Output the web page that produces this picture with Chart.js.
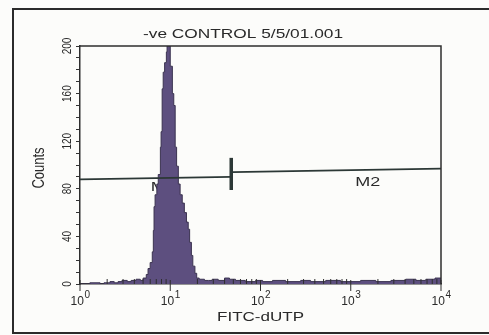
<!DOCTYPE html>
<html>
<head>
<meta charset="utf-8">
<title>-ve CONTROL 5/5/01.001</title>
<script src="https://cdn.jsdelivr.net/npm/chart.js@4.4.1/dist/chart.umd.min.js"></script>
<style>
    html, body { margin: 0; padding: 0; background: #fcfcfa; overflow: hidden; }
    #wrap { position: relative; width: 489px; height: 335px; }
    #frame { position: absolute; left: 12px; top: 8px; width: 520px; height: 326px; border: 2px solid #2b2b2b; box-sizing: border-box; }
    #histo { position: absolute; left: 0; top: 0; }
</style>
</head>
<body>
<div id="wrap">
    <div id="frame"></div>
    <canvas id="histo" width="489" height="335"></canvas>
</div>
<script>
'use strict';

// ===== data =====
// channel (0-1024, 256 per decade) where the count changes; count holds until next channel
const channels = [
    0, 28, 57, 68, 85, 97, 108, 119, 134, 145, 159, 171, 179, 188, 193, 199,
    205, 208, 210, 213, 218, 222, 228, 230, 233, 236, 240, 245, 247, 256, 262, 266,
    270, 274, 279, 284, 290, 296, 302, 307, 311, 316, 320, 326, 331, 338, 353, 365,
    375, 392, 410, 424, 441, 469, 498, 518, 546, 583, 626, 654, 697, 739, 796, 839,
    882, 924, 953, 981, 1007, 1024
];
const counts = [
    0, 1, 0, 1, 2, 1, 2, 3, 2, 3, 4, 3, 5, 8, 13, 18,
    27, 45, 65, 75, 84, 92, 115, 128, 164, 178, 186, 195, 200, 183, 160, 150,
    115, 99, 84, 75, 68, 60, 52, 46, 35, 24, 15, 9, 5, 4, 3, 3,
    4, 3, 5, 4, 3, 2, 3, 2, 3, 2, 3, 2, 3, 2, 3, 2,
    3, 4, 3, 4, 5, 5
];

// gate markers M1 / M2
const m1Channels = [0, 429];
const m1Counts = [88, 90];
const m2Channels = [433, 1024];
const m2Counts = [94, 97];
const dividerChannel = 429;
const dividerCounts = [79, 106];

// axis labels
const decadeLabels = ['0', '1', '2', '3', '4'];
const yLabels = [0, 40, 80, 120, 160, 200];
const gateLabels = [
    { text: 'M1', channel: 236, count: 81 },
    { text: 'M2', channel: 816, count: 85 }
];

const INK = '#2a2a2a';
const FONT = '"Liberation Sans", Arial, sans-serif';
const PER_DECADE = 256;

function drawText(ctx, text, x, y, size, stretch, rotated) {
    ctx.save();
    ctx.font = size + 'px ' + FONT;
    ctx.fillStyle = INK;
    ctx.textAlign = 'center';
    ctx.textBaseline = 'middle';
    ctx.translate(x, y);
    ctx.scale(stretch, 1);
    if (rotated) ctx.rotate(-Math.PI / 2);
    ctx.fillText(text, 0, 0);
    ctx.restore();
}

function stretchFor(ctx, text, size, width) {
    ctx.save();
    ctx.font = size + 'px ' + FONT;
    const w = ctx.measureText(text).width;
    ctx.restore();
    return width / w;
}

const facsPlugin = {
    id: 'facs',
    // gate labels sit under the histogram
    beforeDatasetsDraw(chart) {
        const { ctx, scales: { x, y } } = chart;
        gateLabels.forEach(g => {
            const s = stretchFor(ctx, g.text, 12, 25);
            drawText(ctx, g.text, x.getPixelForValue(g.channel), y.getPixelForValue(g.count), 12, s, false);
        });
    },
    afterDraw(chart) {
        const { ctx, chartArea: a, scales: { x, y } } = chart;
        ctx.save();
        ctx.strokeStyle = '#2e2e2e';
        ctx.lineWidth = 1.5;
        // top and right of the plot box
        ctx.beginPath();
        ctx.moveTo(a.left, a.top);
        ctx.lineTo(a.right, a.top);
        ctx.lineTo(a.right, a.bottom);
        ctx.stroke();

        // x ticks: decades point down, 2..9 point up into the plot
        ctx.lineWidth = 1;
        decadeLabels.forEach((d, i) => {
            const px = x.getPixelForValue(i * PER_DECADE);
            ctx.beginPath();
            ctx.moveTo(px, a.bottom - 4);
            ctx.lineTo(px, a.bottom + 7);
            ctx.stroke();
            if (i === decadeLabels.length - 1) return;
            for (let k = 2; k <= 9; k++) {
                const mx = x.getPixelForValue((i + Math.log10(k)) * PER_DECADE);
                ctx.beginPath();
                ctx.moveTo(mx, a.bottom);
                ctx.lineTo(mx, a.bottom - 5);
                ctx.stroke();
            }
        });
        ctx.restore();

        // x tick labels 10^n
        decadeLabels.forEach((d, i) => {
            const px = x.getPixelForValue(i * PER_DECADE);
            ctx.save();
            ctx.fillStyle = INK;
            ctx.textBaseline = 'middle';
            ctx.font = '12px ' + FONT;
            const w1 = ctx.measureText('10').width;
            ctx.font = '10px ' + FONT;
            const w2 = ctx.measureText(d).width;
            const start = px - (w1 + w2) / 2;
            ctx.font = '12px ' + FONT;
            ctx.textAlign = 'left';
            ctx.fillText('10', start, a.bottom + 18);
            ctx.font = '10px ' + FONT;
            ctx.fillText(d, start + w1 + 0.5, a.bottom + 11);
            ctx.restore();
        });

        // y tick labels, rotated
        yLabels.forEach(v => {
            drawText(ctx, String(v), 67, y.getPixelForValue(v), 10, 1.35, true);
        });

        // titles
        drawText(ctx, '-ve CONTROL 5/5/01.001', 243, 34, 13, stretchFor(ctx, '-ve CONTROL 5/5/01.001', 13, 200), false);
        drawText(ctx, 'FITC-dUTP', (a.left + a.right) / 2, 317, 13, stretchFor(ctx, 'FITC-dUTP', 13, 87), false);
        drawText(ctx, 'Counts', 39, 168, 13, 1.3, true);
    }
};

const toPoints = (xs, ys) => xs.map((c, i) => ({ x: c, y: ys[i] }));

new Chart(document.getElementById('histo'), {
    type: 'line',
    data: {
        datasets: [
            { data: toPoints(m1Channels, m1Counts), borderColor: '#2c3836', borderWidth: 1.8 },
            { data: toPoints(m2Channels, m2Counts), borderColor: '#2c3836', borderWidth: 1.8 },
            { data: dividerCounts.map(v => ({ x: dividerChannel, y: v })), borderColor: '#2c3836', borderWidth: 3.5 },
            {
                data: toPoints(channels, counts),
                stepped: true,
                fill: 'origin',
                backgroundColor: '#5d4f7f',
                borderColor: '#3b3350',
                borderWidth: 1
            }
        ]
    },
    options: {
        responsive: false,
        animation: false,
        events: [],
        layout: { padding: { top: 46, right: 48, left: 0, bottom: 0 } },
        elements: { point: { radius: 0 }, line: { tension: 0 } },
        plugins: { legend: { display: false }, tooltip: { enabled: false } },
        scales: {
            x: {
                type: 'linear',
                min: 0,
                max: 1024,
                grid: { display: false },
                ticks: { display: false },
                border: { display: true, color: '#2e2e2e', width: 1.5 },
                afterFit(scale) { scale.height = 51; }
            },
            y: {
                min: 0,
                max: 200,
                ticks: { display: false, stepSize: 10 },
                grid: { drawOnChartArea: false, drawTicks: true, tickLength: 4, color: '#333' },
                border: { display: true, color: '#2e2e2e', width: 1.5 },
                afterFit(scale) { scale.width = 80; }
            }
        }
    },
    plugins: [facsPlugin]
});
</script>
</body>
</html>
